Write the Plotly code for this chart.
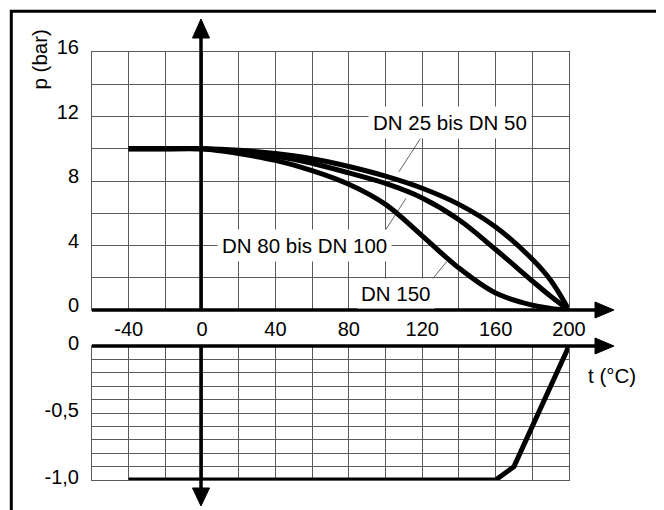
import plotly.graph_objects as go

# ---------------- data ----------------
t_curve = [-40, -20, 0, 20, 40, 60, 80, 100, 120, 140, 160, 180, 190, 200]
p_dn25_50 = [10, 10, 10, 9.9, 9.7, 9.38, 8.9, 8.3, 7.55, 6.55, 5.15, 3.15, 1.85, 0]
p_dn80_100 = [10, 10, 10, 9.85, 9.55, 9.1, 8.5, 7.85, 6.95, 5.6, 3.75, 1.8, 0.85, 0]
p_dn150 = [10, 10, 10, 9.7, 9.28, 8.65, 7.8, 6.55, 4.6, 2.6, 1.05, 0.3, 0.1, 0]

t_vac = [-40, 160, 170, 200]
p_vac = [-1.0, -1.0, -0.9, 0.0]

x_tickvals = [-60, -40, -20, 0, 20, 40, 60, 80, 100, 120, 140, 160, 180, 200]
x_ticktext = ["", "-40", "", "0", "", "40", "", "80", "", "120", "", "160", "", "200"]
p_tickvals = [0, 2, 4, 6, 8, 10, 12, 14, 16]
p_ticktext = ["0", "", "4", "", "8", "", "12", "", "16"]
v_tickvals = [-1.0, -0.9, -0.8, -0.7, -0.6, -0.5, -0.4, -0.3, -0.2, -0.1, 0.0]
v_ticktext = ["-1,0", "", "", "", "", "-0,5", "", "", "", "", "0"]

labels = ["DN 25 bis DN 50", "DN 80 bis DN 100", "DN 150"]

# ---------------- geometry ----------------
OFF = 8  # page body margin
W, H = 656, 502
ML, MR, MT, MB = 84, 95, 44, 30
PW = W - ML - MR
PH = H - MT - MB


def px(x):
    """page x pixel -> paper"""
    return (x - OFF - ML) / PW


def py(y):
    """page y pixel -> paper"""
    return (H - MB - (y - OFF)) / PH


UP_DOM = [py(310), 1.0]
LO_DOM = [0.0, py(346)]

FONT = "Liberation Sans, Arial, sans-serif"
GRID = "#5a5a5a"
FS_TICK = 20
FS_ANN = 20.5

fig = go.Figure()

curve_style = dict(color="black", width=5, shape="spline", smoothing=1.0)
for vals in (p_dn25_50, p_dn80_100, p_dn150):
    fig.add_trace(go.Scatter(x=t_curve, y=vals, mode="lines", line=curve_style,
                             xaxis="x", yaxis="y", showlegend=False, hoverinfo="skip",
                             cliponaxis=False))

fig.add_trace(go.Scatter(x=t_vac, y=p_vac, mode="lines",
                         line=dict(color="black", width=5),
                         xaxis="x2", yaxis="y2", showlegend=False, hoverinfo="skip",
                         cliponaxis=False))

axis_common = dict(showgrid=True, gridcolor=GRID, gridwidth=1, zeroline=False,
                   showline=True, linecolor=GRID, linewidth=1, mirror=True,
                   ticks="", tickfont=dict(family=FONT, size=FS_TICK, color="black"))

fig.update_layout(
    width=W, height=H,
    margin=dict(l=ML, r=MR, t=MT, b=MB, pad=0),
    paper_bgcolor="white", plot_bgcolor="white",
    showlegend=False,
    xaxis=dict(domain=[0, 1], range=[-60, 200], anchor="y",
               tickmode="array", tickvals=x_tickvals, ticktext=x_ticktext,
               ticklabelstandoff=1, **axis_common),
    yaxis=dict(domain=UP_DOM, range=[0, 16], anchor="x",
               tickmode="array", tickvals=p_tickvals, ticktext=p_ticktext,
               ticklabelstandoff=8, ticklabelshift=-5, **axis_common),
    xaxis2=dict(domain=[0, 1], range=[-60, 200], anchor="y2",
                tickmode="array", tickvals=x_tickvals, showticklabels=False,
                **axis_common),
    yaxis2=dict(domain=LO_DOM, range=[-1, 0], anchor="x2",
                tickmode="array", tickvals=v_tickvals, ticktext=v_ticktext,
                ticklabelstandoff=8, ticklabelshift=-3, **axis_common),
)

shapes = []
# outer frame (only top and left visible)
shapes.append(dict(type="rect", xref="paper", yref="paper",
                   x0=px(11.3), y0=py(11.3), x1=px(760), y1=py(620),
                   line=dict(color="black", width=3), fillcolor="rgba(0,0,0,0)"))


def hline(y, x0, x1, w=3.5):
    return dict(type="line", xref="paper", yref="paper", x0=px(x0), x1=px(x1),
                y0=py(y), y1=py(y), line=dict(color="black", width=w))


def vline(x, y0, y1, w=3.5):
    return dict(type="line", xref="paper", yref="paper", x0=px(x), x1=px(x),
                y0=py(y0), y1=py(y1), line=dict(color="black", width=w))


def tri(pts):
    d = "M " + " L ".join(f"{px(a):.5f},{py(b):.5f}" for a, b in pts) + " Z"
    return dict(type="path", xref="paper", yref="paper", path=d,
                fillcolor="black", line=dict(color="black", width=1))


shapes += [
    vline(201, 36, 310),
    vline(201, 346, 490),
    hline(310, 92, 597),
    hline(346, 92, 597),
    tri([(201, 19), (192.5, 38), (209.5, 38)]),
    tri([(201, 506), (192.5, 488), (209.5, 488)]),
    tri([(614, 310), (595, 302), (595, 318)]),
    tri([(614, 346), (595, 338), (595, 354)]),
]

# leader lines (data coords of the upper chart)
for (x0, y0, x1, y1) in [(119.6, 10.74, 107.3, 8.57),
                         (100.0, 4.96, 111.1, 6.92),
                         (125.1, 1.86, 133.3, 2.99)]:
    shapes.append(dict(type="line", xref="x", yref="y", x0=x0, y0=y0, x1=x1, y1=y1,
                       line=dict(color="#666666", width=1), layer="below"))

fig.update_layout(shapes=shapes)

ann_font = dict(family=FONT, size=FS_ANN, color="black")
common_ann = dict(showarrow=False, font=ann_font, xanchor="center", yanchor="middle")
fig.add_annotation(x=135, y=11.6, xref="x", yref="y", text=labels[0],
                   bgcolor="white", borderpad=4, **common_ann)
fig.add_annotation(x=56.0, y=4.03, xref="x", yref="y", text=labels[1],
                   bgcolor="white", borderpad=4, **common_ann)
fig.add_annotation(x=105.8, y=1.05, xref="x", yref="y", text=labels[2],
                   bgcolor="white", borderpad=3, **common_ann)
fig.add_annotation(x=px(611.5), y=py(375), xref="paper", yref="paper", text="t (°C)",
                   **common_ann)
fig.add_annotation(x=px(38.5), y=py(60), xref="paper", yref="paper", text="p (bar)",
                   textangle=-90, **common_ann)

fig.write_html("out.html")
